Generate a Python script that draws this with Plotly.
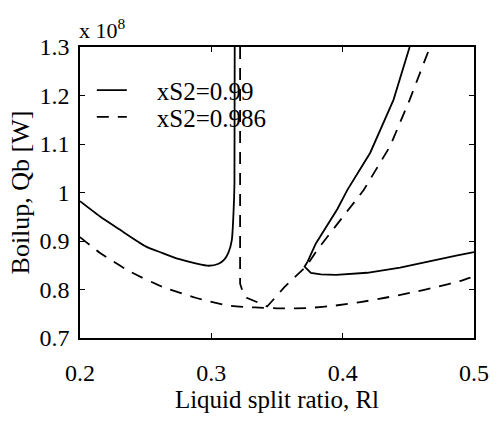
import plotly.graph_objects as go

# Boilup vs liquid split ratio for two product purities (values in units of 1e8 W)
solid_left_x = [0.200, 0.215, 0.230, 0.250, 0.263, 0.275, 0.288, 0.298, 0.3055, 0.310, 0.313, 0.3156, 0.3168, 0.3176, 0.3178]
solid_left_y = [0.982, 0.951, 0.924, 0.889, 0.875, 0.863, 0.854, 0.849, 0.853, 0.862, 0.876, 0.902, 0.953, 1.018, 1.300]

solid_right_x = [0.451, 0.4387, 0.421, 0.4035, 0.396, 0.3884, 0.3796, 0.3734, 0.371, 0.3758, 0.3834, 0.395, 0.4186, 0.4437, 0.4688, 0.4864, 0.500]
solid_right_y = [1.300, 1.191, 1.082, 1.005, 0.966, 0.934, 0.895, 0.858, 0.847, 0.834, 0.831, 0.830, 0.8345, 0.845, 0.860, 0.8697, 0.877]

dashed_low_x = [0.200, 0.215, 0.2377, 0.2628, 0.288, 0.313, 0.333, 0.353, 0.3746, 0.3947, 0.4135, 0.4324, 0.4512, 0.4714, 0.490, 0.500]
dashed_low_y = [0.908, 0.876, 0.8375, 0.8055, 0.783, 0.767, 0.763, 0.761, 0.762, 0.767, 0.774, 0.783, 0.793, 0.805, 0.818, 0.827]

dashed_v_x = [0.3219, 0.3219, 0.3240, 0.3269, 0.3357, 0.3425, 0.3508, 0.3558, 0.3633, 0.372, 0.381, 0.392, 0.4048, 0.416, 0.436, 0.451, 0.4665]
dashed_v_y = [1.300, 0.812, 0.795, 0.783, 0.773, 0.765, 0.790, 0.8055, 0.825, 0.847, 0.883, 0.921, 0.966, 1.005, 1.095, 1.191, 1.300]

series_names = ["xS2=0.99", "xS2=0.986"]

x_ticks = [0.2, 0.3, 0.4, 0.5]
x_tick_labels = ["0.2", "0.3", "0.4", "0.5"]
y_ticks = [0.7, 0.8, 0.9, 1.0, 1.1, 1.2, 1.3]
y_tick_labels = ["0.7", "0.8", "0.9", "1", "1.1", "1.2", "1.3"]

FONT = "Liberation Serif, Times New Roman, serif"
GAP = "\u00a0" * 4

solid_line = dict(color="black", width=1.8)
dash_line = dict(color="black", width=1.8, dash="12px,9px")

fig = go.Figure()
fig.add_trace(go.Scatter(x=solid_left_x, y=solid_left_y, mode="lines",
                         line=dict(solid_line, shape="spline", smoothing=0.6),
                         name=GAP + series_names[0], legendgroup="a", legend="legend"))
fig.add_trace(go.Scatter(x=solid_right_x, y=solid_right_y, mode="lines", line=solid_line,
                         legendgroup="a", showlegend=False))
fig.add_trace(go.Scatter(x=dashed_low_x, y=dashed_low_y, mode="lines",
                         line=dict(dash_line, shape="spline", smoothing=0.6),
                         name=GAP + series_names[1], legendgroup="b", legend="legend2"))
fig.add_trace(go.Scatter(x=dashed_v_x, y=dashed_v_y, mode="lines", line=dash_line,
                         legendgroup="b", showlegend=False))

axis_common = dict(
    showline=True, linecolor="black", linewidth=1.5, mirror="ticks",
    ticks="inside", ticklen=5, tickwidth=1.2, tickcolor="black",
    showgrid=False, zeroline=False,
    tickfont=dict(family=FONT, size=24, color="black"),
)

fig.update_xaxes(range=[0.2, 0.5], tickvals=x_ticks, ticktext=x_tick_labels,
                 title_text="Liquid split ratio, Rl", title_standoff=6,
                 title_font=dict(family=FONT, size=25, color="black"),
                 ticklabelstandoff=12, **axis_common)
fig.update_yaxes(range=[0.7, 1.3], tickvals=y_ticks, ticktext=y_tick_labels,
                 title_text="Boilup, Qb [W]", title_standoff=2,
                 title_font=dict(family=FONT, size=26, color="black"),
                 ticklabelstandoff=4, **axis_common)

fig.add_annotation(text="x 10<sup>8</sup>", xref="paper", yref="paper", x=0, y=1,
                   xanchor="left", yanchor="bottom", showarrow=False, yshift=2, xshift=-3,
                   font=dict(family=FONT, size=22, color="black"))

legend_common = dict(xanchor="left", yanchor="middle", bgcolor="rgba(0,0,0,0)",
                     borderwidth=0, font=dict(family=FONT, size=25, color="black"))

fig.update_layout(
    width=501, height=421,
    margin=dict(l=80, r=23, t=47, b=63),
    paper_bgcolor="white", plot_bgcolor="white",
    legend=dict(legend_common, x=0.03, y=0.851),
    legend2=dict(legend_common, x=0.03, y=0.759),
)

fig.write_html("out.html")
